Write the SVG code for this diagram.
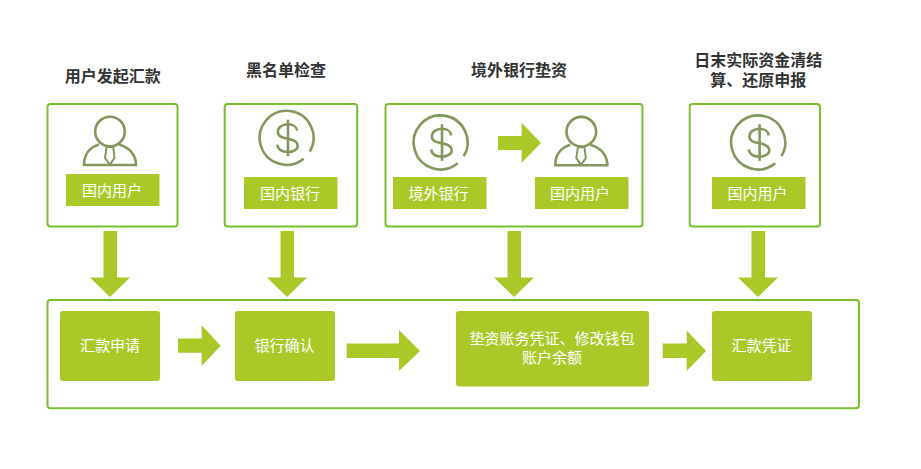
<svg xmlns="http://www.w3.org/2000/svg" xmlns:xlink="http://www.w3.org/1999/xlink" width="921" height="469" viewBox="0 0 921 469">
<style>
text{font-family:"Noto Sans CJK SC","Liberation Sans",sans-serif;text-anchor:middle}
.title{font-size:16px;font-weight:700;fill:#333}
.lab{font-size:15px;fill:#fff}
.frame{fill:#fff;stroke:#76c12c;stroke-width:2}
.fill{fill:#aac929}
.ico{fill:none;stroke:#84975c;stroke-width:2.6}
.arrow{fill:#aac929}
</style>
<defs>
<g id="dollar" class="ico">
<path d="M23.1,13.9A27,27 0 1 0 17,21"/>
<path d="M10.5,-7C10,-11 6,-13.5 1.3,-13.5C-5,-13.5 -8.8,-10 -8.8,-5.7C-8.8,-1 -4,0 1.3,1C6.5,2 11,3.5 11,8C11,12 6.5,14.3 1.3,14.3C-5,14.3 -9,11.5 -9.5,7"/>
<path d="M1.3,-18V18.5"/>
</g>
<g id="person" class="ico">
<circle cx="0" cy="0" r="14.8"/>
<path d="M-11,13C-21,16 -26,24 -26,33.5H26C26,24 20,16 9,13"/>
<path d="M-3.4,15.5H3.2L4.5,26.5L-0.2,33L-5,26.5Z" stroke-width="2"/>
</g>
</defs>
<g id="connectors">
<path class="arrow" d="M103.5,231H117V277.5H130L110,297L90,277.5H103.5Z"/>
<path class="arrow" d="M280.5,231H294V277.5H307L287,297L267,277.5H280.5Z"/>
<path class="arrow" d="M507.5,231H521V277.5H534L514,297L494,277.5H507.5Z"/>
<path class="arrow" d="M751.5,231H765V277.5H778L758,297L738,277.5H751.5Z"/>
</g>
<g id="step-user">
<text class="title" x="112.7" y="82">用户发起汇款</text>
<rect class="frame" x="47.5" y="104" width="130" height="122.5" rx="3"/>
<use xlink:href="#person" x="110" y="131.5"/>
<rect class="fill" x="66" y="174" width="93.5" height="32"/>
<text class="lab" x="112" y="196">国内用户</text>
</g>
<g id="step-blacklist">
<text class="title" x="286" y="76">黑名单检查</text>
<rect class="frame" x="224.7" y="104" width="132.5" height="122.5" rx="3"/>
<use xlink:href="#dollar" x="286.7" y="137.7"/>
<rect class="fill" x="244" y="177" width="93.5" height="32"/>
<text class="lab" x="290" y="199">国内银行</text>
</g>
<g id="step-advance">
<text class="title" x="519" y="76">境外银行垫资</text>
<rect class="frame" x="385.5" y="104" width="257" height="122.5" rx="3"/>
<use xlink:href="#dollar" x="440.7" y="142.3"/>
<path class="arrow" d="M498,136H521.7V122.7L541,143L521.7,162.7V150H498Z"/>
<use xlink:href="#person" x="581.3" y="131.7"/>
<rect class="fill" x="393" y="177" width="93.5" height="32"/>
<text class="lab" x="438.5" y="199">境外银行</text>
<rect class="fill" x="535" y="177" width="93.5" height="32"/>
<text class="lab" x="580" y="199">国内用户</text>
</g>
<g id="step-settle">
<text class="title"><tspan x="758.3" y="66">日末实际资金清结</tspan><tspan x="758.3" y="86">算、还原申报</tspan></text>
<rect class="frame" x="689.7" y="104" width="130.3" height="122.5" rx="3"/>
<use xlink:href="#dollar" x="758.3" y="142.3"/>
<rect class="fill" x="712" y="177" width="93.5" height="32"/>
<text class="lab" x="757.5" y="199">国内用户</text>
</g>
<g id="flow-frame">
<rect class="frame" x="47.5" y="300" width="811.5" height="108.3" rx="3"/>
</g>
<g id="flow-apply">
<rect class="fill" x="60" y="311" width="100" height="70" rx="3"/>
<text class="lab" x="110" y="350.5">汇款申请</text>
</g>
<g id="flow-confirm">
<rect class="fill" x="235" y="311" width="100" height="70" rx="3"/>
<text class="lab" x="284.5" y="350.5">银行确认</text>
</g>
<g id="flow-voucher">
<rect class="fill" x="456" y="311" width="193" height="75.5" rx="3"/>
<text class="lab"><tspan x="552" y="344">垫资账务凭证、修改钱包</tspan><tspan x="552" y="363">账户余额</tspan></text>
</g>
<g id="flow-receipt">
<rect class="fill" x="712" y="311" width="100" height="70" rx="3"/>
<text class="lab" x="761.5" y="350.5">汇款凭证</text>
</g>
<g id="flow-connectors">
<path class="arrow" d="M178,338.5H201.7V325.3L220.7,345.7L201.7,366V352.7H178Z"/>
<path class="arrow" d="M346.7,343.5H399V330L420,351L399,371V358H346.7Z"/>
<path class="arrow" d="M662.7,343.5H686.7V330.5L706,351L686.7,371V358H662.7Z"/>
</g>
</svg>
